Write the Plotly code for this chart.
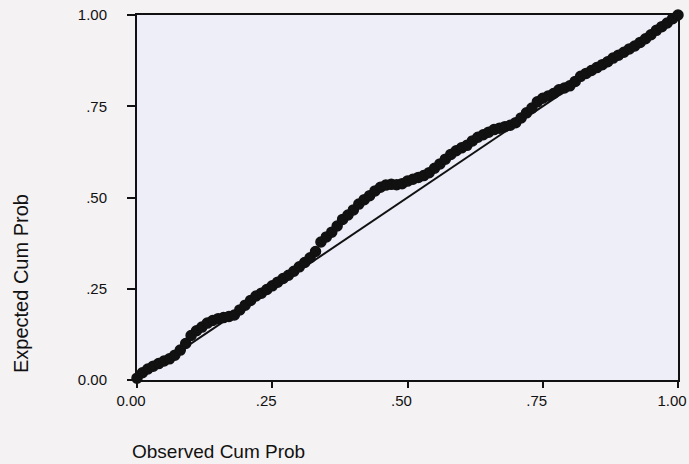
import plotly.graph_objects as go

# Observed cumulative probability (x) and expected cumulative probability (y)
observed_cum_prob = [
    0.00, 0.01, 0.02, 0.03, 0.04, 0.05, 0.06, 0.07, 0.08, 0.09,
    0.10, 0.11, 0.12, 0.13, 0.14, 0.15, 0.16, 0.17, 0.18, 0.19,
    0.20, 0.21, 0.22, 0.23, 0.24, 0.25, 0.26, 0.27, 0.28, 0.29,
    0.30, 0.31, 0.32, 0.33, 0.34, 0.35, 0.36, 0.37, 0.38, 0.39,
    0.40, 0.41, 0.42, 0.43, 0.44, 0.45, 0.46, 0.47, 0.48, 0.49,
    0.50, 0.51, 0.52, 0.53, 0.54, 0.55, 0.56, 0.57, 0.58, 0.59,
    0.60, 0.61, 0.62, 0.63, 0.64, 0.65, 0.66, 0.67, 0.68, 0.69,
    0.70, 0.71, 0.72, 0.73, 0.74, 0.75, 0.76, 0.77, 0.78, 0.79,
    0.80, 0.81, 0.82, 0.83, 0.84, 0.85, 0.86, 0.87, 0.88, 0.89,
    0.90, 0.91, 0.92, 0.93, 0.94, 0.95, 0.96, 0.97, 0.98, 0.99,
    1.00,
]
expected_cum_prob = [
    0.005, 0.020, 0.030, 0.038, 0.045, 0.052, 0.058, 0.068, 0.082, 0.100,
    0.122, 0.135, 0.145, 0.156, 0.163, 0.168, 0.171, 0.174, 0.178, 0.192,
    0.205, 0.218, 0.230, 0.238, 0.248, 0.258, 0.268, 0.278, 0.287, 0.298,
    0.310, 0.322, 0.335, 0.352, 0.378, 0.392, 0.405, 0.422, 0.440, 0.452,
    0.466, 0.482, 0.494, 0.505, 0.518, 0.528, 0.534, 0.536, 0.535, 0.538,
    0.545, 0.550, 0.555, 0.560, 0.568, 0.580, 0.592, 0.605, 0.618, 0.628,
    0.636, 0.643, 0.655, 0.665, 0.672, 0.679, 0.686, 0.690, 0.694, 0.698,
    0.705, 0.718, 0.732, 0.745, 0.762, 0.772, 0.778, 0.785, 0.795, 0.800,
    0.806, 0.818, 0.832, 0.840, 0.848, 0.856, 0.864, 0.872, 0.882, 0.890,
    0.898, 0.907, 0.915, 0.925, 0.935, 0.946, 0.958, 0.968, 0.978, 0.990,
    1.000,
]
# Reference (diagonal) line
reference_line = [0.0, 1.0]

tick_vals = [0.0, 0.25, 0.50, 0.75, 1.0]
tick_text = ["0.00", ".25", ".50", ".75", "1.00"]

FONT = "Liberation Sans, Arial, sans-serif"

fig = go.Figure()
fig.add_trace(go.Scatter(
    x=reference_line, y=reference_line, mode="lines",
    line=dict(color="#111111", width=2), hoverinfo="skip", showlegend=False,
))
fig.add_trace(go.Scatter(
    x=observed_cum_prob, y=expected_cum_prob, mode="markers",
    marker=dict(color="#111111", size=10, line=dict(color="#111111", width=1.5)),
    cliponaxis=False, showlegend=False,
))

axis_common = dict(
    range=[0, 1], tickvals=tick_vals, ticktext=tick_text,
    showgrid=False, zeroline=False, showline=True, mirror=True,
    linecolor="#111111", linewidth=2, ticks="outside", tickwidth=2,
    tickcolor="#111111", tickfont=dict(family=FONT, size=15, color="#111111"),
    fixedrange=True, automargin=False, ticklabeloverflow="allow",
)

fig.update_xaxes(**axis_common, ticklen=6, ticklabelshift=-6)
fig.update_yaxes(**axis_common, ticklen=8, ticklabelstandoff=17)

fig.update_layout(
    width=689, height=464,
    margin=dict(l=137, r=11, t=15, b=84),
    paper_bgcolor="#f4f2f3",
    plot_bgcolor="#eeeef9",
    font=dict(family=FONT, color="#111111"),
    annotations=[
        dict(text="Expected Cum Prob", xref="paper", yref="paper",
             x=-0.213, y=0.265, xanchor="center", yanchor="middle",
             textangle=-90, showarrow=False,
             font=dict(family=FONT, size=20, color="#111111")),
        dict(text="Observed Cum Prob", xref="paper", yref="paper",
             x=-0.013, y=-0.197, xanchor="left", yanchor="middle",
             showarrow=False,
             font=dict(family=FONT, size=19, color="#111111")),
    ],
)

fig.write_html(
    "out.html",
    config={"displayModeBar": False},
    post_script="document.body.style.margin='0';document.body.style.overflow='hidden';",
)
